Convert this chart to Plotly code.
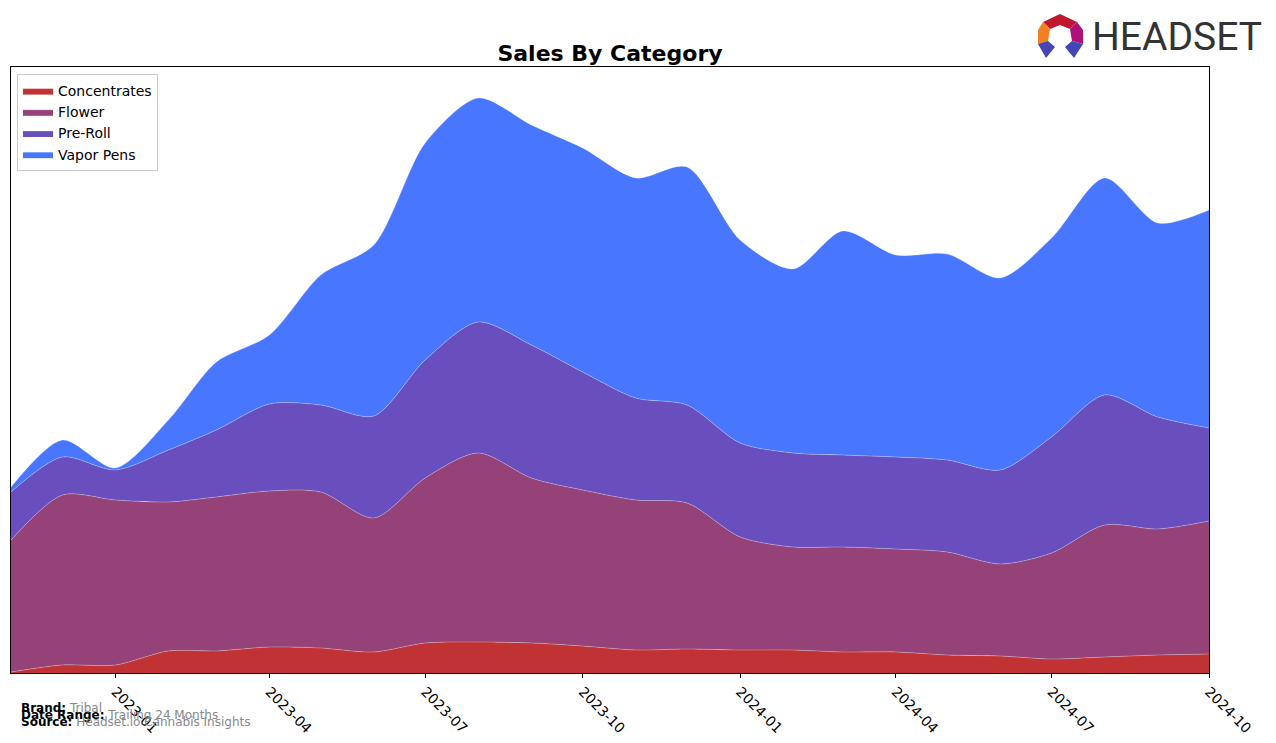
import plotly.graph_objects as go

months = ["2022-11-01","2022-12-01","2023-01-01","2023-02-01","2023-03-01","2023-04-01",
          "2023-05-01","2023-06-01","2023-07-01","2023-08-01","2023-09-01","2023-10-01",
          "2023-11-01","2023-12-01","2024-01-01","2024-02-01","2024-03-01","2024-04-01",
          "2024-05-01","2024-06-01","2024-07-01","2024-08-01","2024-09-01","2024-10-01"]

tick_vals = ["2023-01-01", "2023-04-01", "2023-07-01", "2023-10-01", "2024-01-01",
             "2024-04-01", "2024-07-01", "2024-10-01"]
tick_text = ["2023-01", "2023-04", "2023-07", "2023-10", "2024-01", "2024-04", "2024-07", "2024-10"]

# values (relative units, stacked)
concentrates = [1, 8, 8, 22, 22, 26, 25, 21, 30, 31, 30, 27, 23, 24, 23, 23, 21, 21, 18, 17, 14, 16, 18, 19]
flower = [132, 170, 165, 149, 154, 156, 156, 134, 165, 189, 165, 156, 150, 146, 113, 103, 105, 103, 103, 92, 106, 132, 126, 133]
preroll = [48, 38, 30, 52, 67, 87, 87, 102, 118, 131, 133, 118, 102, 98, 94, 94, 92, 92, 92, 94, 116, 130, 112, 93]
vapor = [5, 17, 2, 30, 68, 69, 130, 171, 217, 224, 220, 224, 220, 238, 203, 184, 224, 202, 206, 192, 199, 217, 194, 218]

series = [
    ("Concentrates", concentrates, "rgb(192,50,52)"),
    ("Flower", flower, "rgb(149,66,120)"),
    ("Pre-Roll", preroll, "rgb(105,78,190)"),
    ("Vapor Pens", vapor, "rgb(72,118,255)"),
]

fig = go.Figure()
for name, vals, col in series:
    fig.add_trace(go.Scatter(
        x=months, y=vals, name=name, mode="lines", stackgroup="one",
        line=dict(shape="spline", smoothing=0.8, width=0.8, color="rgba(255,255,255,0.35)"),
        fillcolor=col,
    ))

# page has an 8px body margin; figure is sized to the remaining window
OFF = 8
FW, FH = 1276 - OFF, 743 - OFF
L, R, T, B = 11, 1209, 67, 673  # target pixel positions in the window
W, H = R - L, B - T


def px(x):
    return (x - L) / W


def py(y):
    return (B - y) / H


def path(pts):
    return "M " + " L ".join(f"{px(a):.5f},{py(b):.5f}" for a, b in pts) + " Z"


logo_parts = [
    ([(1043, 22), (1060, 14), (1077, 22), (1070, 29), (1060, 25), (1050, 29)], "#c0182f"),
    ([(1038, 30), (1043, 22), (1050, 29), (1048, 41), (1038, 44)], "#f08020"),
    ([(1077, 22), (1083, 30), (1083, 44), (1072, 41), (1070, 29)], "#b0107a"),
    ([(1038, 44), (1048, 41), (1055, 47), (1046, 58)], "#4545b5"),
    ([(1083, 44), (1072, 41), (1065, 47), (1074, 58)], "#4545b5"),
]
shapes = []
for pts, c in logo_parts:
    shapes.append(dict(type="path", xref="paper", yref="paper", path=path(pts),
                       fillcolor=c, line=dict(width=0)))

foot_font = dict(family="DejaVu Sans", size=12, color="black")
annotations = [
    dict(text="HEADSET", x=px(1090), y=py(37), xref="paper", yref="paper",
         xanchor="left", yanchor="middle", showarrow=False,
         font=dict(family="Roboto", size=39, color="#333333")),
    dict(text="<b>Brand:</b> <span style='color:#888'>Tribal</span>", x=px(19), y=py(708),
         xref="paper", yref="paper", xanchor="left", yanchor="middle", showarrow=False, font=foot_font),
    dict(text="<b>Date Range:</b> <span style='color:#888'>Trailing 24 Months</span>", x=px(19), y=py(715),
         xref="paper", yref="paper", xanchor="left", yanchor="middle", showarrow=False, font=foot_font),
    dict(text="<b>Source:</b> <span style='color:#888'>Headset.io Cannabis Insights</span>", x=px(19), y=py(722),
         xref="paper", yref="paper", xanchor="left", yanchor="middle", showarrow=False, font=foot_font),
]

fig.update_layout(
    width=FW, height=FH,
    margin=dict(l=L - OFF, r=1276 - R, t=T - OFF, b=743 - B),
    paper_bgcolor="white", plot_bgcolor="white",
    title=dict(text="<b>Sales By Category</b>", x=px(610), xref="paper", y=1 - (53 - OFF) / FH,
               yanchor="middle", xanchor="center",
               font=dict(family="DejaVu Sans", size=22, color="black")),
    font=dict(family="DejaVu Sans", size=14, color="black"),
    showlegend=True,
    legend=dict(x=px(17), y=py(74), xanchor="left", yanchor="top", bgcolor="white",
                bordercolor="#cccccc", borderwidth=1, font=dict(size=14), traceorder="normal",
                itemwidth=30, tracegroupgap=0),
    xaxis=dict(range=["2022-11-01", "2024-10-01"], showgrid=False, zeroline=False,
               tickvals=tick_vals, ticktext=tick_text,
               tickangle=45, ticks="outside", ticklen=4, tickcolor="black",
               showline=True, linecolor="black", linewidth=1, mirror=True),
    yaxis=dict(range=[0, 606], showgrid=False, zeroline=False, showticklabels=False, ticks="",
               showline=True, linecolor="black", linewidth=1, mirror=True),
    shapes=shapes, annotations=annotations,
)

fig.write_html("out.html")
